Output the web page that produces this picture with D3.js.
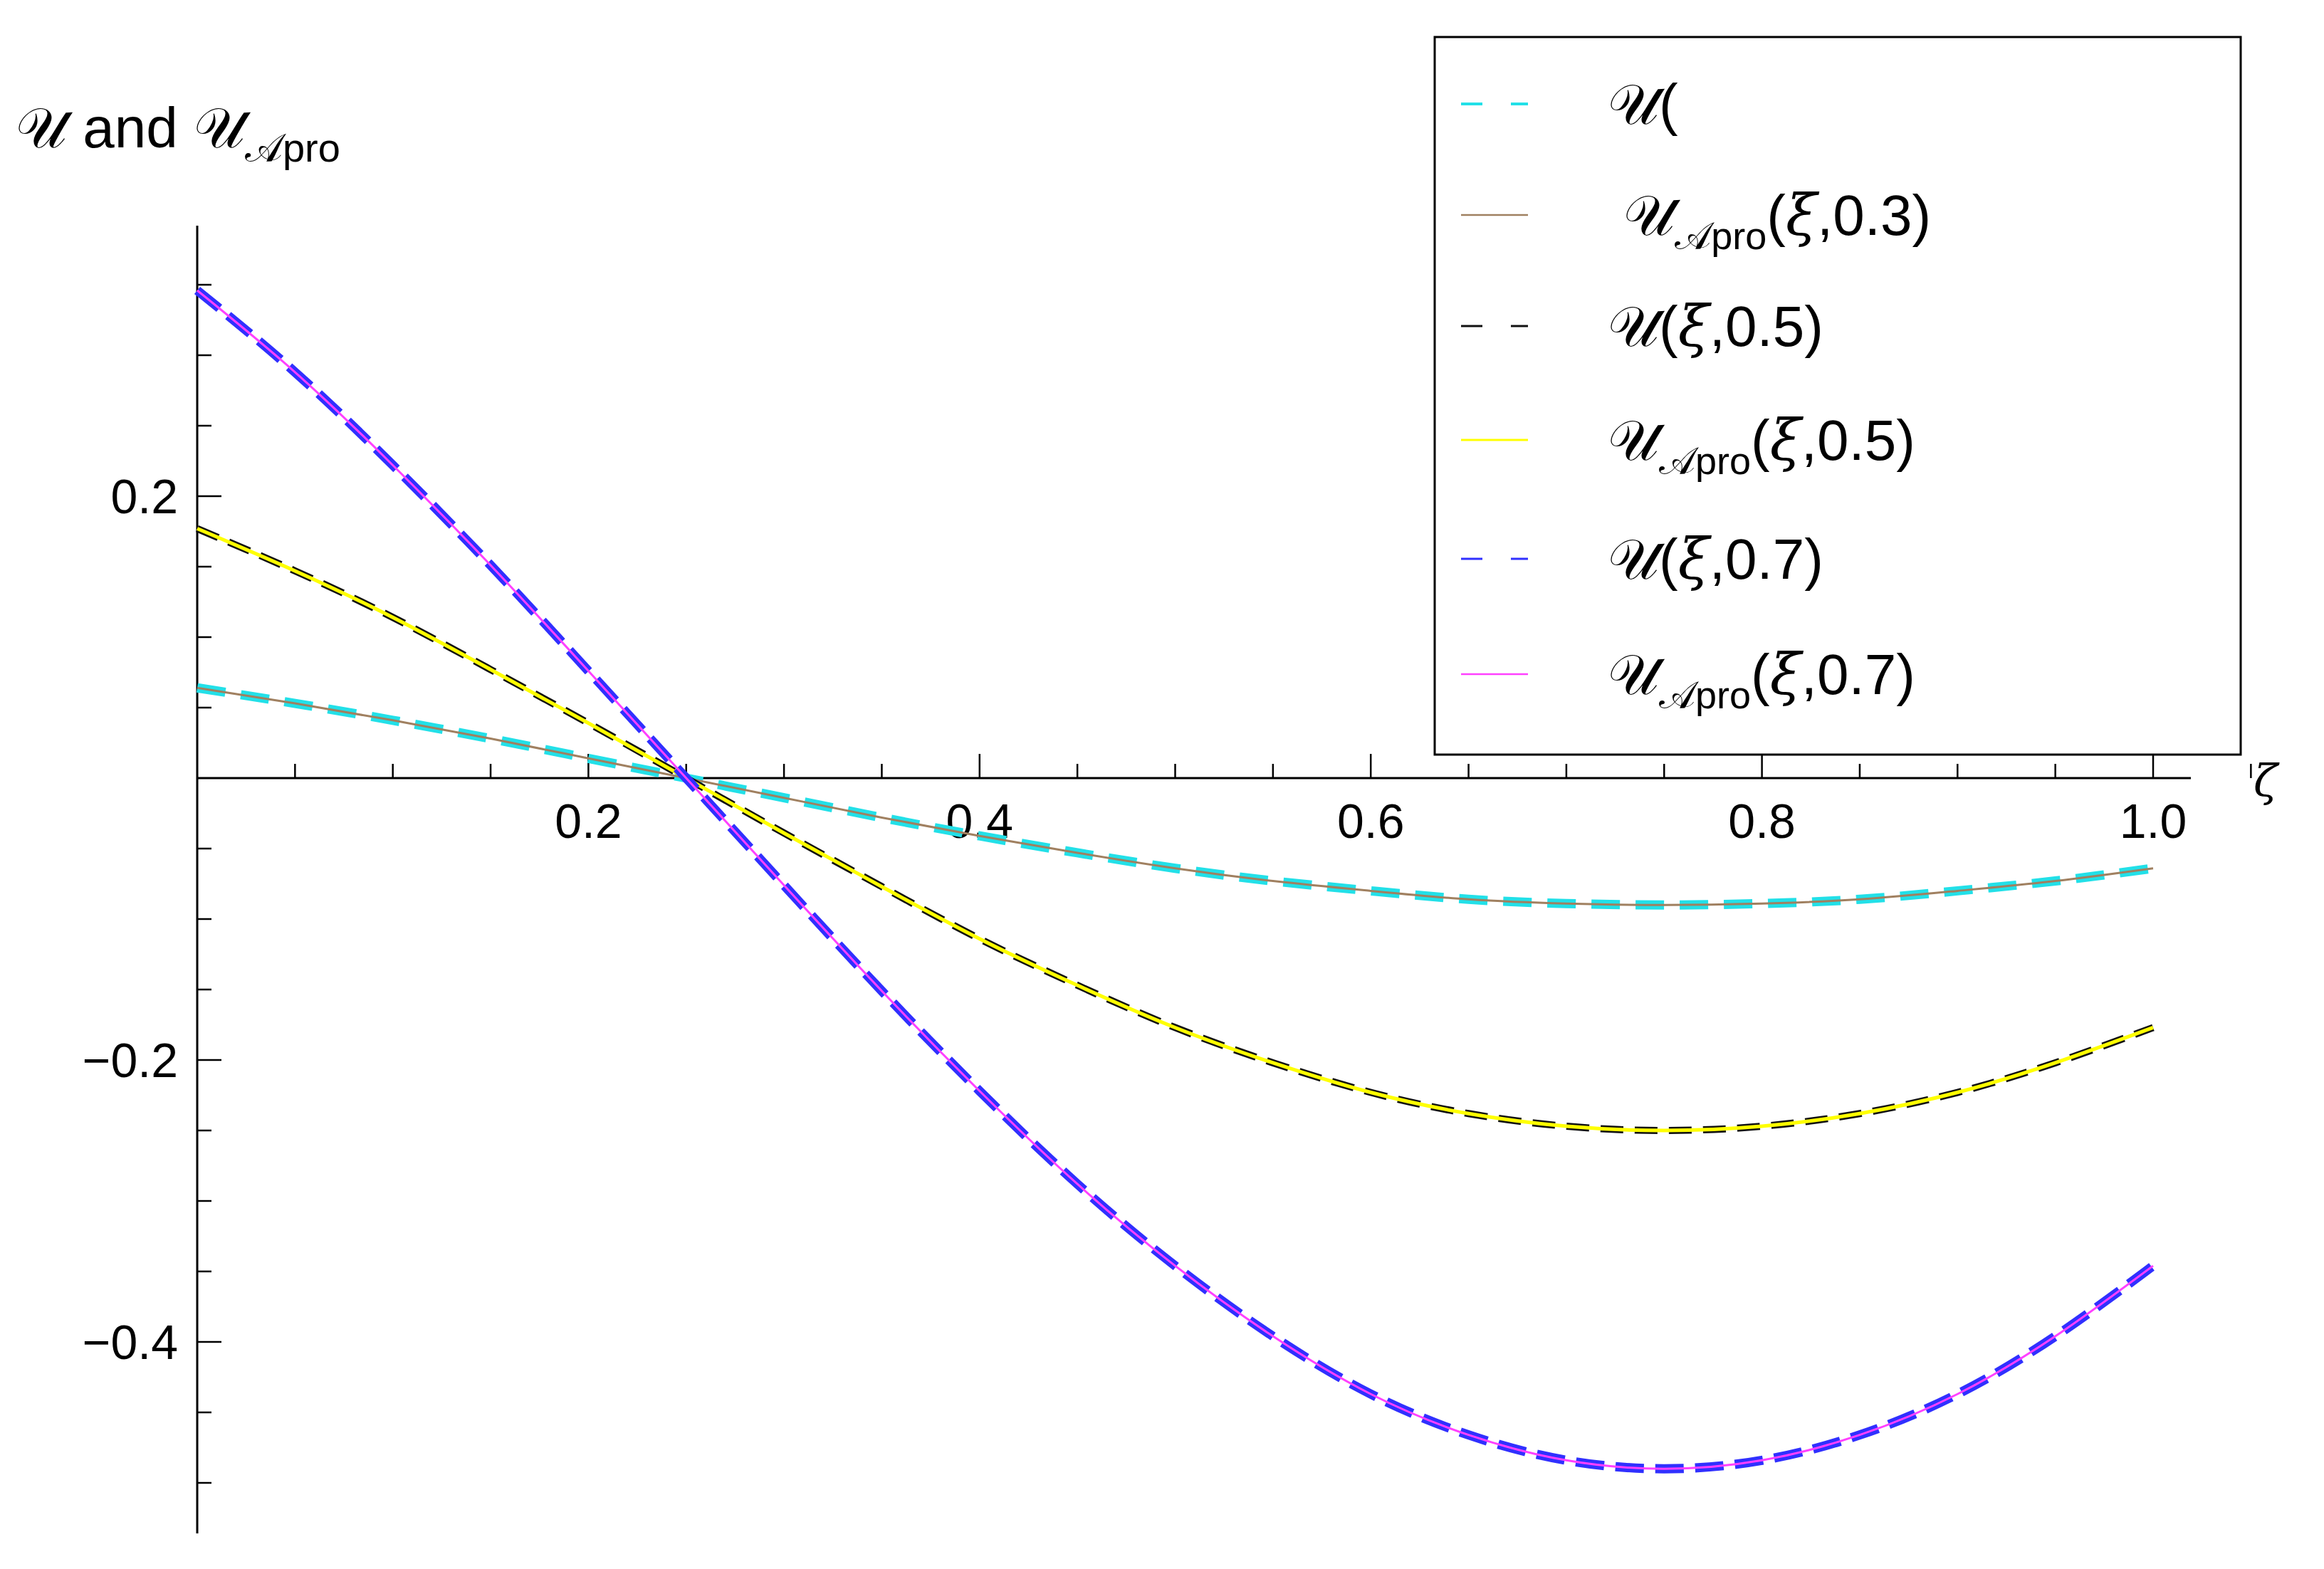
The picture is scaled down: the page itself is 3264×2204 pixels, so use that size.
<!DOCTYPE html>
<html><head><meta charset="utf-8">
<script src="https://cdn.jsdelivr.net/npm/d3@7"></script>
<style>body{margin:0;background:#fff}</style></head>
<body><svg id="c" width="3264" height="2204"></svg>
<script>
const xi = [0,0.05,0.1,0.15,0.2,0.25,0.3,0.35,0.4,0.45,0.5,0.55,0.6,0.65,0.7,0.75,0.8,0.85,0.9,0.95,1.0];
const u03 = [0.064,0.053,0.041,0.028,0.014,0,-0.014,-0.028,-0.041,-0.053,-0.064,-0.073,-0.080,-0.086,-0.089,-0.090,-0.089,-0.086,-0.080,-0.073,-0.064];
const u05 = [0.177,0.147,0.114,0.077,0.039,0,-0.039,-0.077,-0.114,-0.147,-0.177,-0.202,-0.223,-0.238,-0.247,-0.250,-0.247,-0.238,-0.223,-0.202,-0.177];
const u07 = [0.346,0.288,0.222,0.151,0.076,0,-0.076,-0.151,-0.222,-0.288,-0.346,-0.396,-0.437,-0.466,-0.484,-0.490,-0.484,-0.466,-0.437,-0.396,-0.346];
const a03 = u03.slice(), a05 = u05.slice(), a07 = u07.slice();
const xTicks = [0.2,0.4,0.6,0.8,1.0];
const yTicks = [0.2,-0.2,-0.4];
const legendLabels = ["𝒰(", " 𝒰<sub>𝒜pro</sub>(<i>ξ</i>,0.3)", "𝒰(<i>ξ</i>,0.5)", "𝒰<sub>𝒜pro</sub>(<i>ξ</i>,0.5)", "𝒰(<i>ξ</i>,0.7)", "𝒰<sub>𝒜pro</sub>(<i>ξ</i>,0.7)"];

const svg = d3.select("#c");
const F = "Arial, 'Liberation Sans', 'DejaVu Sans', sans-serif";
const x = d3.scaleLinear().domain([0,1]).range([277,3024]);
const y = d3.scaleLinear().domain([0,0.2]).range([1093,697]);

const xa = svg.append("g").attr("transform","translate(0,1093)");
xa.append("line").attr("x1",277).attr("x2",3077).attr("stroke","#000").attr("stroke-width",3);
for(let i=1;i<=21;i++){ const v=i*0.05; const major=i%4===0;
  xa.append("line").attr("x1",x(v)).attr("x2",x(v)).attr("y1",0).attr("y2",major?-34:-20).attr("stroke","#000").attr("stroke-width",2.5);
}
xTicks.forEach(v=>xa.append("text").attr("x",x(v)).attr("y",84).attr("text-anchor","middle").attr("font-family",F).attr("font-size",68).text(v.toFixed(1)));
svg.append("text").attr("x",3165).attr("y",1118).attr("font-family","'DejaVu Serif', serif").attr("font-style","italic").attr("font-size",62).text("ζ");

const ya = svg.append("g");
ya.append("line").attr("x1",277).attr("x2",277).attr("y1",317).attr("y2",2154).attr("stroke","#000").attr("stroke-width",3);
for(let i=-10;i<=7;i++){ const v=i*0.05; if(i===0) continue;
  const major = i%4===0;
  ya.append("line").attr("x1",277).attr("x2",277+(major?34:20)).attr("y1",y(v)).attr("y2",y(v)).attr("stroke","#000").attr("stroke-width",2.5);
}
yTicks.forEach(v=>ya.append("text").attr("x",250).attr("y",y(v)+24).attr("text-anchor","end").attr("font-family",F).attr("font-size",68).text((v<0?"−":"")+Math.abs(v).toFixed(1)));
const yl = svg.append("text").attr("x",22).attr("y",207).attr("font-family",F).attr("font-size",80);
yl.append("tspan").text("𝒰 and 𝒰");
yl.append("tspan").attr("font-size",56).attr("dy",20).text("𝒜pro");

const line = d3.line().x((d,i)=>x(xi[i])).y(d=>y(d)).curve(d3.curveNatural);
const series = [
  {d:u03,c:"#22e0e8",w:13,dash:"40,22"},
  {d:a03,c:"#a08060",w:3,dash:null},
  {d:u05,c:"#111",w:10,dash:"32,16"},
  {d:a05,c:"#ffff00",w:5,dash:null},
  {d:u07,c:"#3030ff",w:13,dash:"40,16"},
  {d:a07,c:"#ff40ff",w:3,dash:null}
];
series.forEach(s=>svg.append("path").attr("d",line(s.d)).attr("fill","none").attr("stroke",s.c).attr("stroke-width",s.w).attr("stroke-dasharray",s.dash));

svg.append("rect").attr("x",2015).attr("y",52).attr("width",1132).attr("height",1008).attr("fill","#fff").attr("stroke","#000").attr("stroke-width",3);
const ly=[146,302,458,618,785,947];
const lstyle=[{c:"#22e0e8",w:4,dash:"30,40"},{c:"#a08060",w:2.5,dash:null},{c:"#111",w:3,dash:"30,40"},{c:"#ffff00",w:3,dash:null},{c:"#3030ff",w:3,dash:"30,40"},{c:"#ff40ff",w:2.5,dash:null}];
legendLabels.forEach((lab,i)=>{
  svg.append("line").attr("x1",2052).attr("x2",2146).attr("y1",ly[i]).attr("y2",ly[i]).attr("stroke",lstyle[i].c).attr("stroke-width",lstyle[i].w).attr("stroke-dasharray",lstyle[i].dash);
  const t = svg.append("text").attr("x",2258).attr("y",ly[i]+28).attr("font-family",F).attr("font-size",80).attr("xml:space","preserve");
  const toks = lab.split(/(<sub>.*?<\/sub>|<i>.*?<\/i>)/).filter(s=>s.length);
  let shifted=false;
  toks.forEach(p=>{
    if(p.startsWith("<sub>")){ t.append("tspan").attr("font-size",54).attr("dy",20).text(p.slice(5,-6)); shifted=true; }
    else { const sp=t.append("tspan"); if(shifted){sp.attr("dy",-20); shifted=false;}
      if(p.startsWith("<i>")) sp.attr("font-style","italic").attr("font-family","'DejaVu Serif', serif").text(p.slice(3,-4));
      else sp.text(p); }
  });
});
</script></body></html>
